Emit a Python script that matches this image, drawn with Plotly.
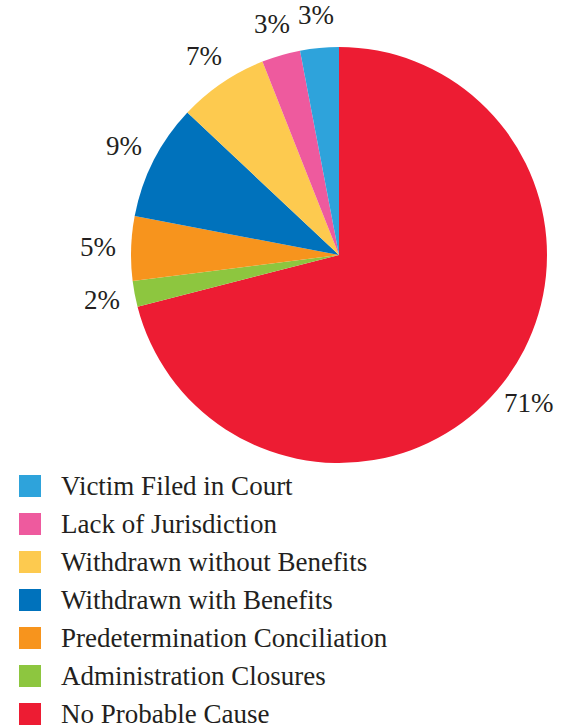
import math
import plotly.graph_objects as go

# Case closure types, in legend order
categories = [
    "Victim Filed in Court",
    "Lack of Jurisdiction",
    "Withdrawn without Benefits",
    "Withdrawn with Benefits",
    "Predetermination Conciliation",
    "Administration Closures",
    "No Probable Cause",
]
shares = [3, 3, 7, 9, 5, 2, 71]
colors = ["#2EA3DB", "#EE5A9E", "#FDCA4F", "#0072BC", "#F7941D", "#8DC63F", "#ED1C33"]

FONT = "Liberation Serif"
TEXT_COLOR = "#231F20"
W, H = 563, 725

# Pie placement (pixels): centre and radius
CX, CY, R = 339, 255, 208
LABEL_R = 241

# Slices run clockwise from 12 o'clock, starting with the last category
pie_labels = categories[::-1]
pie_values = shares[::-1]
pie_colors = colors[::-1]

fig = go.Figure(
    go.Pie(
        labels=pie_labels,
        values=pie_values,
        sort=False,
        direction="clockwise",
        rotation=0,
        marker=dict(colors=pie_colors, line=dict(width=0)),
        textinfo="none",
        showlegend=False,
        hoverinfo="label+percent",
        domain=dict(x=[(CX - R) / W, (CX + R) / W],
                    y=[1 - (CY + R) / H, 1 - (CY - R) / H]),
    )
)

annotations = []

# Percentage labels placed outside each slice, on its mid-angle
total = sum(pie_values)
start = 0.0
for v in pie_values:
    mid = (start + v / 2) / total * 2 * math.pi
    start += v
    lx = CX + LABEL_R * math.sin(mid)
    ly = CY - LABEL_R * math.cos(mid)
    annotations.append(dict(
        xref="paper", yref="paper", x=lx / W, y=1 - ly / H,
        xanchor="center", yanchor="middle", showarrow=False,
        text=f"{v}%",
        font=dict(family=FONT, size=27, color=TEXT_COLOR),
    ))

# Legend: colour swatches with category names, stacked below the pie
swatch_top = 475
swatch_size = 22
row_step = 38
shapes = []
for i, (name, col) in enumerate(zip(categories, colors)):
    y0 = swatch_top + i * row_step
    shapes.append(dict(
        type="rect", xref="paper", yref="paper",
        x0=19 / W, x1=(19 + swatch_size) / W,
        y0=1 - (y0 + swatch_size) / H, y1=1 - y0 / H,
        fillcolor=col, line=dict(width=0),
    ))
    annotations.append(dict(
        xref="paper", yref="paper",
        x=59 / W, y=1 - (y0 + swatch_size / 2) / H,
        xanchor="left", yanchor="middle",
        text=name, showarrow=False,
        font=dict(family=FONT, size=27, color=TEXT_COLOR),
    ))

fig.update_layout(
    width=W, height=H,
    margin=dict(l=0, r=0, t=0, b=0),
    paper_bgcolor="white",
    plot_bgcolor="white",
    shapes=shapes,
    annotations=annotations,
)

fig.write_html("out.html")
